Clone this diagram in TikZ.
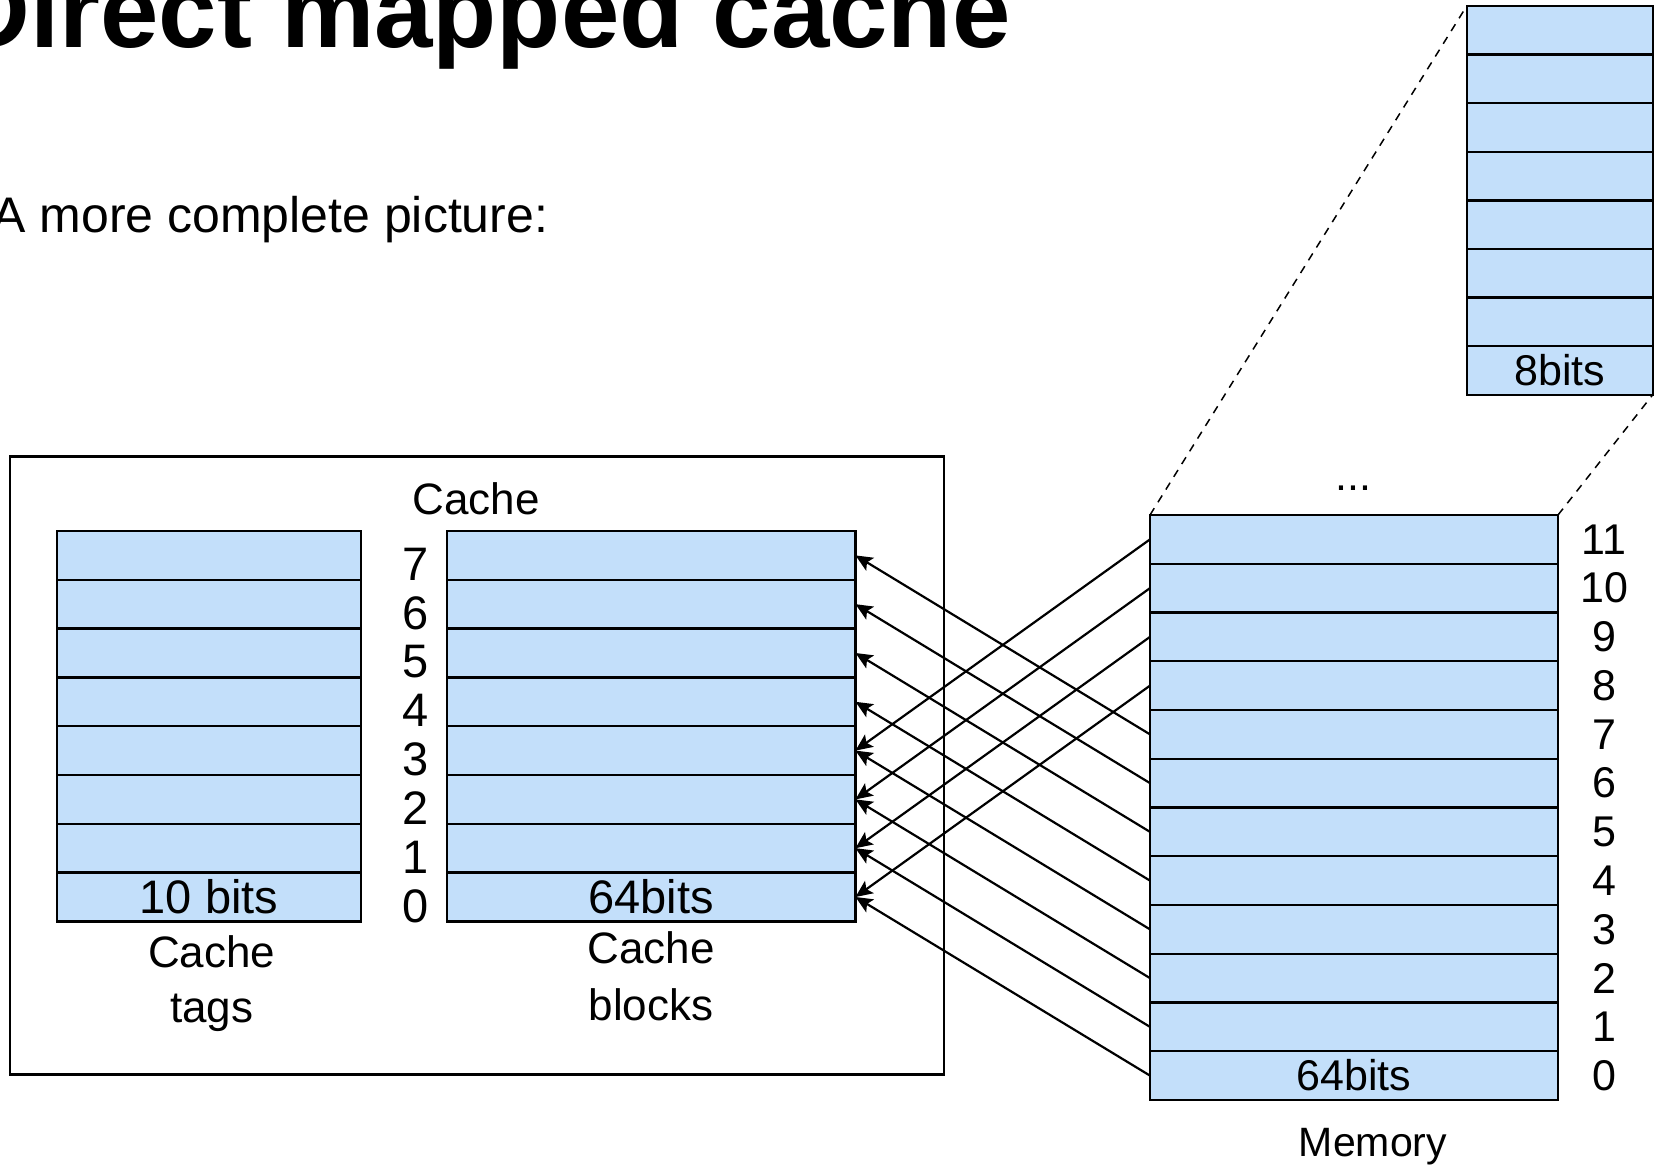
\documentclass[tikz,border=0pt]{standalone}
\usepackage{fontspec}
\setmainfont{Liberation Sans}
\usetikzlibrary{arrows.meta}
\definecolor{cellblue}{RGB}{195,223,250}
\begin{document}
\begin{tikzpicture}[x=0.5pt,y=-0.5pt,
  cell/.style={draw=black,line width=1.2pt,fill=cellblue,inner sep=0pt,outer sep=0pt,anchor=north west},
  lbl/.style={inner sep=0pt,font=\fontsize{22pt}{26pt}\selectfont},
  numlbl/.style={inner sep=0pt,font=\fontsize{23.5pt}{27pt}\selectfont},
  memlbl/.style={inner sep=0pt,font=\fontsize{21.5pt}{25pt}\selectfont},
  arr/.style={line width=1.1pt,-{Stealth[length=8.5pt,width=7.5pt,inset=1.8pt]}},
  guide/.style={line width=0.75pt,dash pattern=on 4pt off 3.5pt}
]
\useasboundingbox (0,0) rectangle (1660,1165);

% heading and subheading
\node[anchor=base west,inner sep=0pt,font=\fontsize{52.5pt}{60pt}\selectfont\bfseries] (title) at (-46,48) {Direct mapped cache};
\node[anchor=base west,inner sep=0pt,font=\fontsize{25pt}{30pt}\selectfont] (sub) at (-8,233) {A more complete picture:};

% cache enclosure
\node[draw=black,line width=1.2pt,minimum width=467pt,minimum height=309pt,anchor=north west,inner sep=0pt,outer sep=0pt] (cachebox) at (10,456.5) {};
\node[lbl,anchor=base] (cachettl) at (476,515) {Cache};

% tag store, index column and data blocks
\foreach \i in {0,...,7} {
  \node[cell,minimum width=152pt,minimum height=24.4pt] (tag\i) at (57,{531+48.8*(7-\i)}) {};
  \node[cell,minimum width=204.25pt,minimum height=24.4pt] (blk\i) at (447,{531+48.8*(7-\i)}) {};
  \node[numlbl] (idx\i) at (416,{531+48.8*(7.5-\i)+9}) {\i};
}
\node[numlbl] (tagbits) at (tag0) {10 bits};
\node[numlbl] (blkbits) at (blk0) {64bits};
\node[lbl,anchor=base] (tagcap1) at (211.7,967) {Cache};
\node[lbl,anchor=base] (tagcap2) at (211.7,1022) {tags};
\node[lbl,anchor=base] (blkcap1) at (651,963) {Cache};
\node[lbl,anchor=base] (blkcap2) at (651,1020) {blocks};

% main memory
\foreach \k in {0,...,11} {
  \node[cell,minimum width=204pt,minimum height=24.375pt] (mem\k) at (1150,{515+48.75*(11-\k)}) {};
  \node[memlbl] (midx\k) at (1604,{515+48.75*(11.5-\k)}) {\k};
}
\node[memlbl] (membits) at (mem0) {64bits};
\node[memlbl,anchor=base] (memdots) at (1353,491) {...};
\node[lbl,font=\fontsize{20.5pt}{24pt}\selectfont,anchor=base] (memcap) at (1373,1156) {Memory};

% one memory word expanded into bytes
\foreach \r in {0,...,7} {
  \node[cell,minimum width=93pt,minimum height=24.3pt] (byte\r) at (1466.7,{6+48.6*(7-\r)}) {};
}
\node[memlbl] (bytebits) at (byte0) {8bits};
\draw[guide] (mem11.north west) -- (byte7.north west);
\draw[guide] (mem11.north east) -- (byte0.south east);

% block k of memory goes to cache line k mod 8
\foreach \k in {0,...,11} {
  \pgfmathtruncatemacro{\j}{mod(\k,8)}
  \draw[arr] (mem\k.west) -- (blk\j.east);
}
\end{tikzpicture}
\end{document}
